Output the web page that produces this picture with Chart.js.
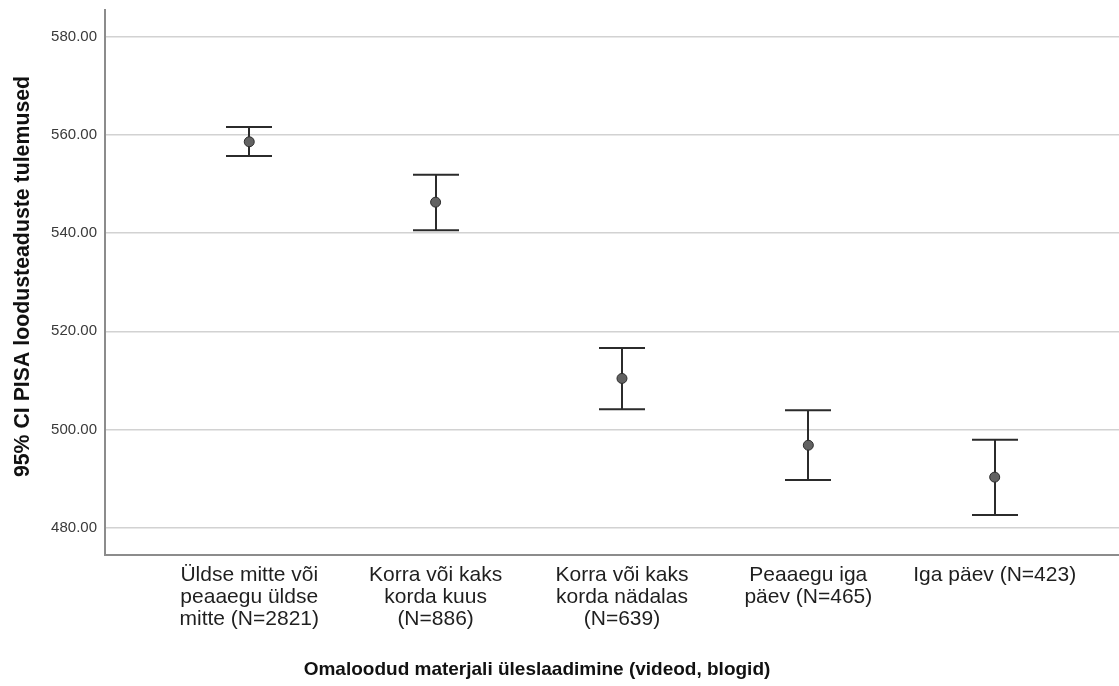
<!DOCTYPE html>
<html>
<head>
<meta charset="utf-8">
<title>PISA loodusteaduste tulemused</title>
<script src="https://cdn.jsdelivr.net/npm/chart.js@4.4.1/dist/chart.umd.min.js"></script>
<style>
  html, body { margin: 0; padding: 0; background: #ffffff; overflow: hidden; }
  #wrap { width: 1119px; height: 686px; position: relative; }
  #chart { display: block; }
</style>
</head>
<body>
<div id="wrap"><canvas id="chart" width="1119" height="686"></canvas></div>
<script>
// Groups (multi-line axis labels)
const categories = [
  ['Üldse mitte või', 'peaaegu üldse', 'mitte (N=2821)'],
  ['Korra või kaks', 'korda kuus', '(N=886)'],
  ['Korra või kaks', 'korda nädalas', '(N=639)'],
  ['Peaaegu iga', 'päev (N=465)'],
  ['Iga päev (N=423)']
];
// Group means and 95% confidence interval bounds
const means   = [558.6, 546.3, 510.4, 496.8, 490.3];
const ciLower = [555.7, 540.6, 504.1, 489.7, 482.6];
const ciUpper = [561.6, 551.9, 516.6, 503.9, 497.9];
// Value axis ticks
const yTicks = [480, 500, 520, 540, 560, 580];

const xTitle = 'Omaloodud materjali üleslaadimine (videod, blogid)';
const yTitle = '95% CI PISA loodusteaduste tulemused';

const FONT = '"Liberation Sans", Arial, Helvetica, sans-serif';

// Keep the plot area flush with the fixed axis boxes
function fixBox(size, key) {
  return s => {
    s[key] = size;
    s.paddingTop = 0; s.paddingBottom = 0;
    s.paddingLeft = 0; s.paddingRight = 0;
  };
}

// Whiskers with caps, drawn beneath the mean markers
const errorBars = {
  id: 'errorBars',
  beforeDatasetsDraw(chart) {
    const { ctx, scales: { x, y } } = chart;
    const cap = 23;
    ctx.save();
    ctx.strokeStyle = '#2b2b2b';
    ctx.lineWidth = 2;
    ctx.lineCap = 'butt';
    means.forEach((m, i) => {
      const px = Math.round(x.getPixelForValue(i));
      const yl = y.getPixelForValue(ciLower[i]);
      const yu = y.getPixelForValue(ciUpper[i]);
      ctx.beginPath();
      ctx.moveTo(px, yu); ctx.lineTo(px, yl);
      ctx.moveTo(px - cap, yu); ctx.lineTo(px + cap, yu);
      ctx.moveTo(px - cap, yl); ctx.lineTo(px + cap, yl);
      ctx.stroke();
    });
    ctx.restore();
  }
};

// Axis titles
const axisTitles = {
  id: 'axisTitles',
  afterDraw(chart) {
    const { ctx } = chart;
    ctx.save();
    ctx.fillStyle = '#111111';
    ctx.textAlign = 'center';
    ctx.textBaseline = 'middle';
    ctx.font = 'bold 19px ' + FONT;
    ctx.fillText(xTitle, 537, 670);
    ctx.translate(23, 276.5);
    ctx.rotate(-Math.PI / 2);
    ctx.font = 'bold 21.3px ' + FONT;
    ctx.fillText(yTitle, 0, 0);
    ctx.restore();
  }
};

new Chart(document.getElementById('chart'), {
  type: 'scatter',
  data: {
    datasets: [{
      data: means.map((m, i) => ({ x: i, y: m })),
      pointRadius: 5,
      pointHoverRadius: 5,
      pointBackgroundColor: '#626262',
      pointBorderColor: '#2b2b2b',
      pointBorderWidth: 1,
      showLine: false
    }]
  },
  options: {
    responsive: false,
    animation: false,
    devicePixelRatio: 1,
    layout: { autoPadding: false, padding: { top: 10, right: 0, bottom: 0, left: 0 } },
    plugins: {
      legend: { display: false },
      tooltip: { enabled: false }
    },
    scales: {
      x: {
        type: 'linear',
        min: -0.774,
        max: 4.667,
        afterBuildTicks: s => { s.ticks = categories.map((_, i) => ({ value: i })); },
        afterFit: fixBox(131, 'height'),
        ticks: {
          autoSkip: false,
          maxRotation: 0,
          minRotation: 0,
          padding: 9,
          color: '#1f1f1f',
          font: { family: FONT, size: 21, lineHeight: 1.05 },
          callback: v => categories[v]
        },
        grid: { display: false, drawTicks: false },
        border: { color: '#8c8c8c', width: 2 }
      },
      y: {
        type: 'linear',
        min: 474.44,
        max: 585.44,
        afterBuildTicks: s => { s.ticks = yTicks.map(v => ({ value: v })); },
        afterFit: fixBox(105, 'width'),
        ticks: {
          padding: 8,
          color: '#3a3a3a',
          font: { family: FONT, size: 15 },
          callback: v => Number(v).toFixed(2)
        },
        grid: { color: '#d2d2d2', lineWidth: 1.6, drawTicks: false },
        border: { color: '#8c8c8c', width: 2 }
      }
    }
  },
  plugins: [errorBars, axisTitles]
});
</script>
</body>
</html>
